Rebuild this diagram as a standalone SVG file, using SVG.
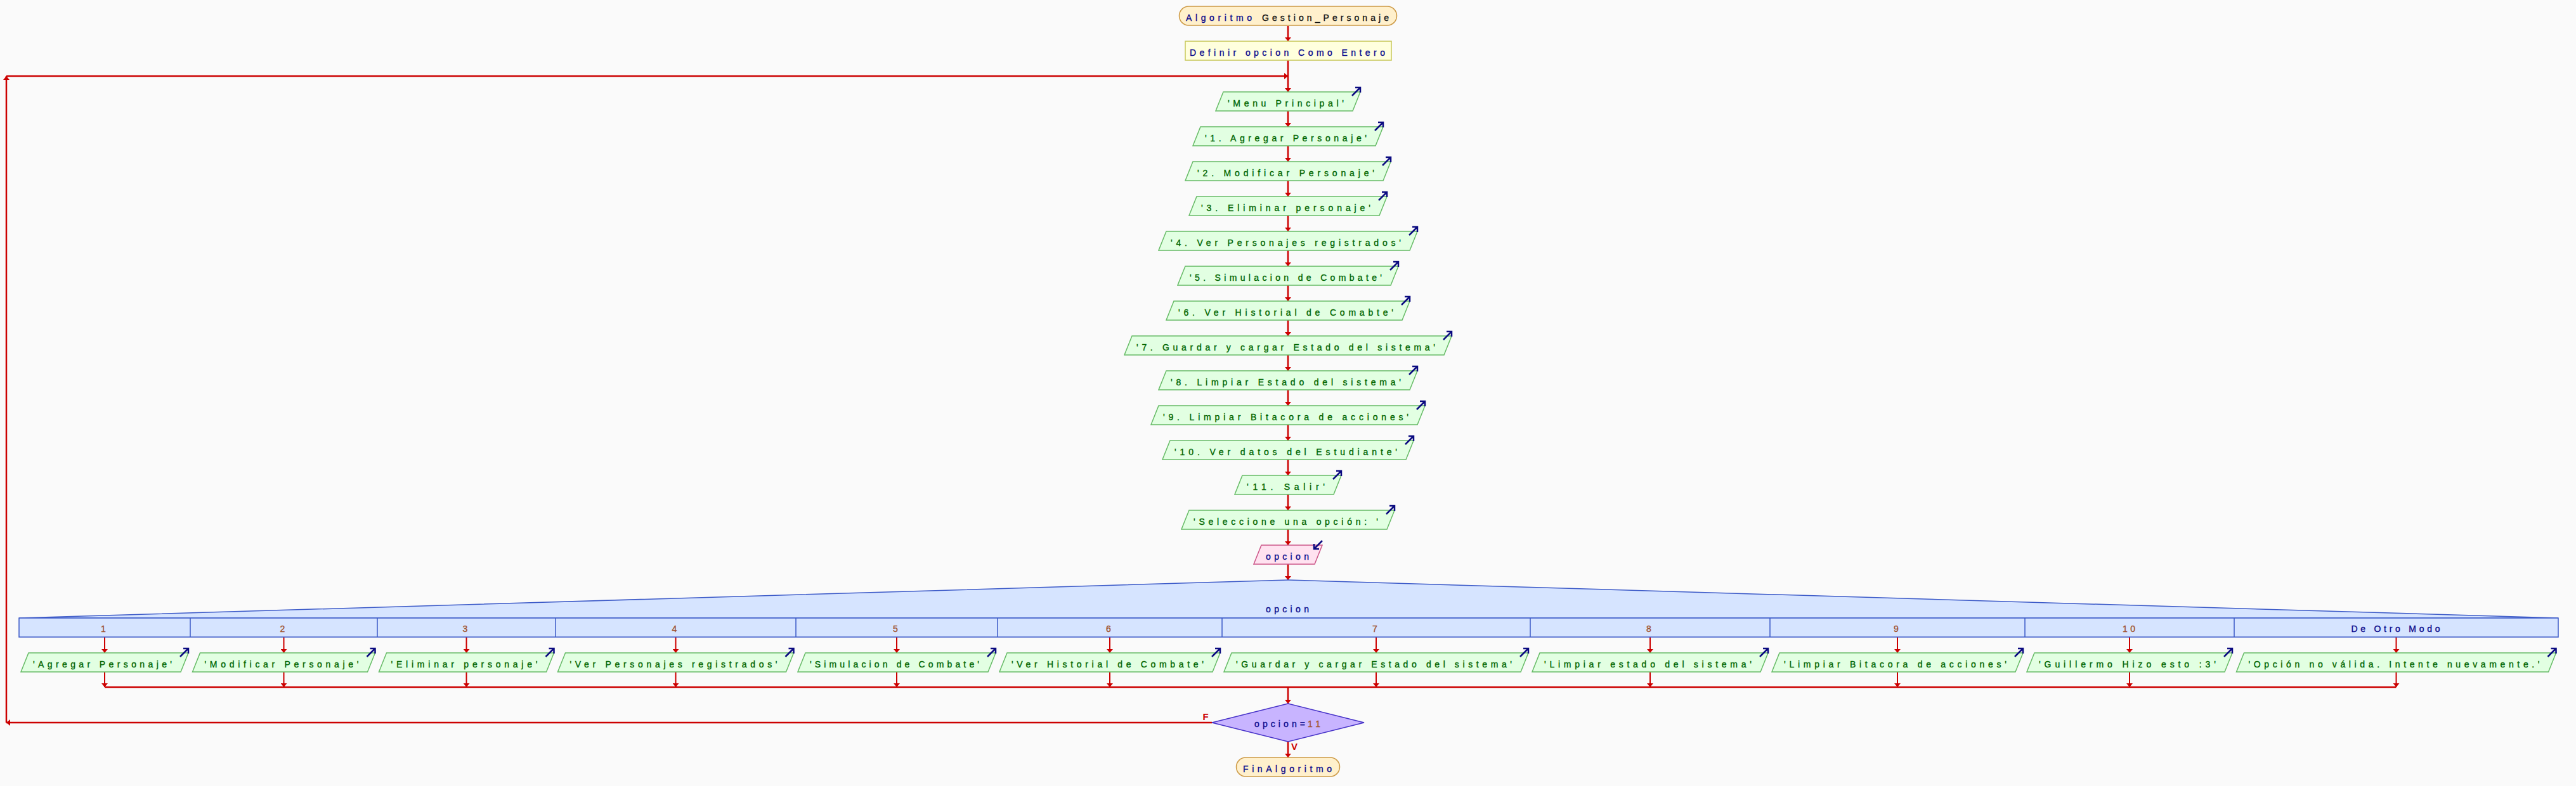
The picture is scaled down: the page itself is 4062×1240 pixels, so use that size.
<svg xmlns="http://www.w3.org/2000/svg" width="4062" height="1240" viewBox="0 0 4062 1240">
<style>
.t{font-family:"Liberation Sans",Arial,sans-serif;font-size:14px;stroke-width:0.35}
.kw{fill:#0a0a8c;stroke:#0a0a8c}
.id{fill:#111111;stroke:#111111}
.st{fill:#006600;stroke:#006600}
.nu{fill:#a0522d;stroke:#a0522d}
.term{fill:#fff0cc;stroke:#cc9944;stroke-width:1.5}
.def{fill:#ffffdd;stroke:#c8c85a;stroke-width:1.5}
.out{fill:#e2ffe2;stroke:#66bb66;stroke-width:1.5}
.in{fill:#ffe2f0;stroke:#cc5588;stroke-width:1.5}
.cs{fill:#d6e4ff;stroke:#3c5ac8;stroke-width:1.5}
.dec{fill:#c8b4ff;stroke:#4632c8;stroke-width:1.5}
.ln{fill:none;stroke:#cc0000;stroke-width:2.5}
.ln2{fill:none;stroke:#cc0000;stroke-width:2}
.lbl{font-family:"Liberation Sans",Arial,sans-serif;font-size:15px;font-weight:bold;fill:#cc0000}
</style>
<defs>
<marker id="ah" viewBox="0 0 6 10" refX="6" refY="5" markerWidth="6" markerHeight="10" markerUnits="userSpaceOnUse" orient="auto"><path d="M0,0 L6,5 L0,10 z" fill="#cc0000"/></marker>
<path id="oa" d="M-13,6 L0,-7 M-8,-7 H0 V1" fill="none" stroke="#0a0a80" stroke-width="2.5"/>
<path id="ia" d="M0,-7 L-13,6 M-13,-2 V6 H-5" fill="none" stroke="#0a0a80" stroke-width="2.5"/>
</defs>
<rect x="0" y="0" width="4062" height="1240" fill="#fafafa"/>

<g id="connectors">
<path class="ln" d="M2031,41 V65" marker-end="url(#ah)"/>
<path class="ln" d="M2031,95 V145" marker-end="url(#ah)"/>
<path class="ln" d="M2031,175 V200" marker-end="url(#ah)"/>
<path class="ln" d="M2031,230 V255" marker-end="url(#ah)"/>
<path class="ln" d="M2031,285 V310" marker-end="url(#ah)"/>
<path class="ln" d="M2031,340 V365" marker-end="url(#ah)"/>
<path class="ln" d="M2031,395 V420" marker-end="url(#ah)"/>
<path class="ln" d="M2031,450 V475" marker-end="url(#ah)"/>
<path class="ln" d="M2031,505 V530" marker-end="url(#ah)"/>
<path class="ln" d="M2031,560 V585" marker-end="url(#ah)"/>
<path class="ln" d="M2031,615 V640" marker-end="url(#ah)"/>
<path class="ln" d="M2031,670 V695" marker-end="url(#ah)"/>
<path class="ln" d="M2031,725 V750" marker-end="url(#ah)"/>
<path class="ln" d="M2031,780 V805" marker-end="url(#ah)"/>
<path class="ln" d="M2031,835 V860" marker-end="url(#ah)"/>
<path class="ln" d="M2031,890 V915" marker-end="url(#ah)"/>
<path class="ln2" d="M165,1005 V1030" marker-end="url(#ah)"/>
<path class="ln2" d="M447.5,1005 V1030" marker-end="url(#ah)"/>
<path class="ln2" d="M735.5,1005 V1030" marker-end="url(#ah)"/>
<path class="ln2" d="M1065.5,1005 V1030" marker-end="url(#ah)"/>
<path class="ln2" d="M1414,1005 V1030" marker-end="url(#ah)"/>
<path class="ln2" d="M1750,1005 V1030" marker-end="url(#ah)"/>
<path class="ln2" d="M2170,1005 V1030" marker-end="url(#ah)"/>
<path class="ln2" d="M2602,1005 V1030" marker-end="url(#ah)"/>
<path class="ln2" d="M2992,1005 V1030" marker-end="url(#ah)"/>
<path class="ln2" d="M3358,1005 V1030" marker-end="url(#ah)"/>
<path class="ln2" d="M3778.5,1005 V1030" marker-end="url(#ah)"/>
<path class="ln2" d="M165,1060 V1084" marker-end="url(#ah)"/>
<path class="ln2" d="M447.5,1060 V1084" marker-end="url(#ah)"/>
<path class="ln2" d="M735.5,1060 V1084" marker-end="url(#ah)"/>
<path class="ln2" d="M1065.5,1060 V1084" marker-end="url(#ah)"/>
<path class="ln2" d="M1414,1060 V1084" marker-end="url(#ah)"/>
<path class="ln2" d="M1750,1060 V1084" marker-end="url(#ah)"/>
<path class="ln2" d="M2170,1060 V1084" marker-end="url(#ah)"/>
<path class="ln2" d="M2602,1060 V1084" marker-end="url(#ah)"/>
<path class="ln2" d="M2992,1060 V1084" marker-end="url(#ah)"/>
<path class="ln2" d="M3358,1060 V1084" marker-end="url(#ah)"/>
<path class="ln2" d="M3778.5,1060 V1084" marker-end="url(#ah)"/>
<path class="ln" d="M165,1084 H3778.5"/>
<path class="ln" d="M2031,1084 V1110" marker-end="url(#ah)"/>
<path class="ln" d="M2031,1170 V1195" marker-end="url(#ah)"/>
<path class="ln" d="M1911,1140 H10" marker-end="url(#ah)"/>
<path class="ln" d="M10,1140 V120" marker-end="url(#ah)"/>
<path class="ln" d="M10,120 H2031" marker-end="url(#ah)"/>
<text class="lbl" x="1901" y="1136" text-anchor="middle">F</text>
<text class="lbl" x="2041" y="1183" text-anchor="middle">V</text>
</g>

<g id="inicio">
<rect class="term" x="1859.5" y="10" width="343" height="30" rx="15"/>
<text class="t kw" x="1870" y="32.5" textLength="104" lengthAdjust="spacing">Algoritmo</text>
<text class="t id" x="1990" y="32.5" textLength="200" lengthAdjust="spacing">Gestion_Personaje</text>
</g>

<g id="definir">
<rect class="def" x="1869" y="65" width="325" height="30"/>
<text class="t kw" x="1876" y="87.5" textLength="308" lengthAdjust="spacing">Definir opcion Como Entero</text>
</g>

<g id="esc0"><polygon class="out" points="1929,145 2145,145 2133,175 1917,175"/><use href="#oa" x="2145" y="145"/>
<text class="t st" x="1936" y="167.5" textLength="183" lengthAdjust="spacing">'Menu Principal'</text></g>
<g id="esc1"><polygon class="out" points="1893,200 2181,200 2169,230 1881,230"/><use href="#oa" x="2181" y="200"/>
<text class="t st" x="1900" y="222.5" textLength="255" lengthAdjust="spacing">'1. Agregar Personaje'</text></g>
<g id="esc2"><polygon class="out" points="1881,255 2193,255 2181,285 1869,285"/><use href="#oa" x="2193" y="255"/>
<text class="t st" x="1888" y="277.5" textLength="279" lengthAdjust="spacing">'2. Modificar Personaje'</text></g>
<g id="esc3"><polygon class="out" points="1887,310 2187,310 2175,340 1875,340"/><use href="#oa" x="2187" y="310"/>
<text class="t st" x="1894" y="332.5" textLength="267" lengthAdjust="spacing">'3. Eliminar personaje'</text></g>
<g id="esc4"><polygon class="out" points="1839,365 2235,365 2223,395 1827,395"/><use href="#oa" x="2235" y="365"/>
<text class="t st" x="1846" y="387.5" textLength="363" lengthAdjust="spacing">'4. Ver Personajes registrados'</text></g>
<g id="esc5"><polygon class="out" points="1869,420 2205,420 2193,450 1857,450"/><use href="#oa" x="2205" y="420"/>
<text class="t st" x="1876" y="442.5" textLength="303" lengthAdjust="spacing">'5. Simulacion de Combate'</text></g>
<g id="esc6"><polygon class="out" points="1851,475 2223,475 2211,505 1839,505"/><use href="#oa" x="2223" y="475"/>
<text class="t st" x="1858" y="497.5" textLength="339" lengthAdjust="spacing">'6. Ver Historial de Comabte'</text></g>
<g id="esc7"><polygon class="out" points="1785,530 2289,530 2277,560 1773,560"/><use href="#oa" x="2289" y="530"/>
<text class="t st" x="1792" y="552.5" textLength="471" lengthAdjust="spacing">'7. Guardar y cargar Estado del sistema'</text></g>
<g id="esc8"><polygon class="out" points="1839,585 2235,585 2223,615 1827,615"/><use href="#oa" x="2235" y="585"/>
<text class="t st" x="1846" y="607.5" textLength="363" lengthAdjust="spacing">'8. Limpiar Estado del sistema'</text></g>
<g id="esc9"><polygon class="out" points="1827,640 2247,640 2235,670 1815,670"/><use href="#oa" x="2247" y="640"/>
<text class="t st" x="1834" y="662.5" textLength="387" lengthAdjust="spacing">'9. Limpiar Bitacora de acciones'</text></g>
<g id="esc10"><polygon class="out" points="1845,695 2229,695 2217,725 1833,725"/><use href="#oa" x="2229" y="695"/>
<text class="t st" x="1852" y="717.5" textLength="351" lengthAdjust="spacing">'10. Ver datos del Estudiante'</text></g>
<g id="esc11"><polygon class="out" points="1959,750 2115,750 2103,780 1947,780"/><use href="#oa" x="2115" y="750"/>
<text class="t st" x="1966" y="772.5" textLength="123" lengthAdjust="spacing">'11. Salir'</text></g>
<g id="esc12"><polygon class="out" points="1875,805 2199,805 2187,835 1863,835"/><use href="#oa" x="2199" y="805"/>
<text class="t st" x="1882" y="827.5" textLength="291" lengthAdjust="spacing">'Seleccione una opción: '</text></g>

<g id="leer"><polygon class="in" points="1989,860 2085,860 2073,890 1977,890"/><use href="#ia" x="2085" y="860"/>
<text class="t kw" x="1996" y="882.5" textLength="68" lengthAdjust="spacing">opcion</text></g>

<g id="segun">
<polygon class="cs" points="30,975 2031,915 4034,975"/>
<rect class="cs" x="30" y="975" width="4004" height="30"/>
<path d="M300,975V1005 M595,975V1005 M876,975V1005 M1255,975V1005 M1573,975V1005 M1927,975V1005 M2413,975V1005 M2791,975V1005 M3193,975V1005 M3523,975V1005" stroke="#3c5ac8" stroke-width="1.5" fill="none"/>
<text class="t kw" x="1996" y="966" textLength="68" lengthAdjust="spacing">opcion</text>
<text class="t nu" x="163" y="997" text-anchor="middle">1</text>
<text class="t nu" x="445.5" y="997" text-anchor="middle">2</text>
<text class="t nu" x="733.5" y="997" text-anchor="middle">3</text>
<text class="t nu" x="1063.5" y="997" text-anchor="middle">4</text>
<text class="t nu" x="1412" y="997" text-anchor="middle">5</text>
<text class="t nu" x="1748" y="997" text-anchor="middle">6</text>
<text class="t nu" x="2168" y="997" text-anchor="middle">7</text>
<text class="t nu" x="2600" y="997" text-anchor="middle">8</text>
<text class="t nu" x="2990" y="997" text-anchor="middle">9</text>
<text class="t nu" x="3347" y="997" textLength="20" lengthAdjust="spacing">10</text>
<text class="t kw" x="3707.5" y="997" textLength="140" lengthAdjust="spacing">De Otro Modo</text>
</g>

<g id="caso1"><polygon class="out" points="45,1030 297,1030 285,1060 33,1060"/><use href="#oa" x="297" y="1030"/>
<text class="t st" x="52" y="1052.5" textLength="219" lengthAdjust="spacing">'Agregar Personaje'</text></g>
<g id="caso2"><polygon class="out" points="315.5,1030 591.5,1030 579.5,1060 303.5,1060"/><use href="#oa" x="591.5" y="1030"/>
<text class="t st" x="322.5" y="1052.5" textLength="243" lengthAdjust="spacing">'Modificar Personaje'</text></g>
<g id="caso3"><polygon class="out" points="609.5,1030 873.5,1030 861.5,1060 597.5,1060"/><use href="#oa" x="873.5" y="1030"/>
<text class="t st" x="616.5" y="1052.5" textLength="231" lengthAdjust="spacing">'Eliminar personaje'</text></g>
<g id="caso4"><polygon class="out" points="891.5,1030 1251.5,1030 1239.5,1060 879.5,1060"/><use href="#oa" x="1251.5" y="1030"/>
<text class="t st" x="898.5" y="1052.5" textLength="327" lengthAdjust="spacing">'Ver Personajes registrados'</text></g>
<g id="caso5"><polygon class="out" points="1270,1030 1570,1030 1558,1060 1258,1060"/><use href="#oa" x="1570" y="1030"/>
<text class="t st" x="1277" y="1052.5" textLength="267" lengthAdjust="spacing">'Simulacion de Combate'</text></g>
<g id="caso6"><polygon class="out" points="1588,1030 1924,1030 1912,1060 1576,1060"/><use href="#oa" x="1924" y="1030"/>
<text class="t st" x="1595" y="1052.5" textLength="303" lengthAdjust="spacing">'Ver Historial de Combate'</text></g>
<g id="caso7"><polygon class="out" points="1942,1030 2410,1030 2398,1060 1930,1060"/><use href="#oa" x="2410" y="1030"/>
<text class="t st" x="1949" y="1052.5" textLength="435" lengthAdjust="spacing">'Guardar y cargar Estado del sistema'</text></g>
<g id="caso8"><polygon class="out" points="2428,1030 2788,1030 2776,1060 2416,1060"/><use href="#oa" x="2788" y="1030"/>
<text class="t st" x="2435" y="1052.5" textLength="327" lengthAdjust="spacing">'Limpiar estado del sistema'</text></g>
<g id="caso9"><polygon class="out" points="2806,1030 3190,1030 3178,1060 2794,1060"/><use href="#oa" x="3190" y="1030"/>
<text class="t st" x="2813" y="1052.5" textLength="351" lengthAdjust="spacing">'Limpiar Bitacora de acciones'</text></g>
<g id="caso10"><polygon class="out" points="3208,1030 3520,1030 3508,1060 3196,1060"/><use href="#oa" x="3520" y="1030"/>
<text class="t st" x="3215" y="1052.5" textLength="279" lengthAdjust="spacing">'Guillermo Hizo esto :3'</text></g>
<g id="caso11"><polygon class="out" points="3538.5,1030 4030.5,1030 4018.5,1060 3526.5,1060"/><use href="#oa" x="4030.5" y="1030"/>
<text class="t st" x="3545.5" y="1052.5" textLength="459" lengthAdjust="spacing">'Opción no válida. Intente nuevamente.'</text></g>

<g id="condicion">
<polygon class="dec" points="2031,1110 2151,1140 2031,1170 1911,1140"/>
<text class="t kw" x="1978" y="1147" textLength="80" lengthAdjust="spacing">opcion=</text>
<text class="t nu" x="2062" y="1147" textLength="20" lengthAdjust="spacing">11</text>
</g>

<g id="fin">
<rect class="term" x="1949.5" y="1195" width="163" height="30" rx="15"/>
<text class="t kw" x="1960" y="1217.5" textLength="140" lengthAdjust="spacing">FinAlgoritmo</text>
</g>
</svg>
